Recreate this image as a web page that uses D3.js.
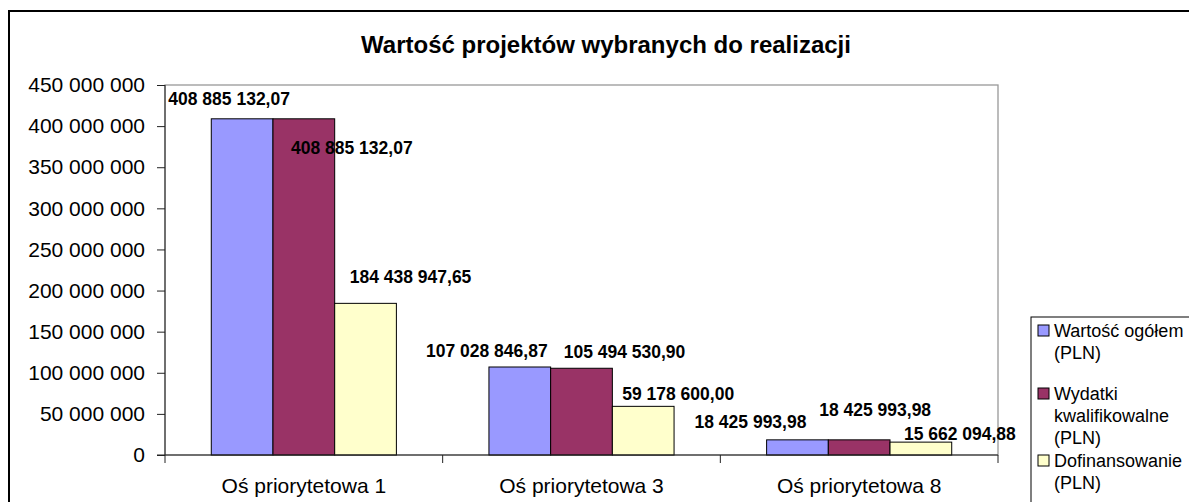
<!DOCTYPE html>
<html>
<head>
<meta charset="utf-8">
<script src="https://cdn.jsdelivr.net/npm/d3@7"></script>
<style>
  body { margin: 0; background: #fff; }
  svg { display: block; font-family: Arial, "Liberation Sans", sans-serif; }
</style>
</head>
<body>
<div id="chart"></div>
<script>
// data
var categories = ["Oś priorytetowa 1", "Oś priorytetowa 3", "Oś priorytetowa 8"];
var seriesNames = ["Wartość ogółem (PLN)", "Wydatki kwalifikowalne (PLN)", "Dofinansowanie (PLN)"];
var wartoscOgolem = [408885132.07, 107028846.87, 18425993.98];
var wydatkiKwalif = [408885132.07, 105494530.90, 18425993.98];
var dofinansowanie = [184438947.65, 59178600.00, 15662094.88];
var yTicks = [0, 50000000, 100000000, 150000000, 200000000, 250000000, 300000000, 350000000, 400000000, 450000000];
var legendLines = [["Wartość ogółem", "(PLN)"], ["Wydatki", "kwalifikowalne", "(PLN)"], ["Dofinansowanie", "(PLN)"]];
var colors = ["#9999ff", "#993366", "#ffffcc"];

// label nudges (the labels were dragged around in the original)
var labelShift = [
  [[-13, -14], [48, 35], [45, -20]],
  [[-33, -10], [43, -10], [35, -6]],
  [[-47, -12], [16, -24], [39, -2]]
];

// basic setup
var svgWidth = 1189;
var svgHeight = 502;
var plot = { left: 165, top: 85, right: 998, bottom: 455 };

var pl = d3.formatLocale({ decimal: ",", thousands: " ", grouping: [3], currency: ["", " zł"] });
var tickFmt = pl.format(",.0f");
var labelFmt = pl.format(",.2f");

var svg = d3.select("#chart")
  .append("svg")
  .attr("width", svgWidth)
  .attr("height", svgHeight);

// outer chart frame
svg.append("rect")
  .attr("x", 9)
  .attr("y", 11)
  .attr("width", 1200)
  .attr("height", 520)
  .attr("fill", "none")
  .attr("stroke", "#000")
  .attr("stroke-width", 2);

// title
svg.append("text")
  .attr("x", 606)
  .attr("y", 53)
  .attr("text-anchor", "middle")
  .style("font-size", "24px")
  .style("font-weight", "bold")
  .text("Wartość projektów wybranych do realizacji");

// scales
var x0 = d3.scaleBand()
  .domain(categories)
  .range([plot.left, plot.right]);

var cw = x0.bandwidth();
var x1 = d3.scaleBand()
  .domain(seriesNames)
  .range([cw * 0.75 / 4.5, cw * 3.75 / 4.5]);

var y = d3.scaleLinear()
  .domain([0, 450000000])
  .range([plot.bottom, plot.top]);

// plot area border
svg.append("rect")
  .attr("x", plot.left)
  .attr("y", plot.top)
  .attr("width", plot.right - plot.left)
  .attr("height", plot.bottom - plot.top)
  .attr("fill", "none")
  .attr("stroke", "#999")
  .attr("stroke-width", 1.3);

// bars
var table = categories.map(function(c, i) {
  return { cat: c, vals: [wartoscOgolem[i], wydatkiKwalif[i], dofinansowanie[i]] };
});

var groups = svg.selectAll("g.grp")
  .data(table)
  .enter()
  .append("g")
  .attr("class", "grp")
  .attr("transform", d => `translate(${x0(d.cat)},0)`);

groups.selectAll("rect")
  .data(d => d.vals.map((v, j) => ({ name: seriesNames[j], v: v, j: j })))
  .enter()
  .append("rect")
  .attr("x", d => x1(d.name))
  .attr("y", d => y(d.v))
  .attr("width", x1.bandwidth())
  .attr("height", d => y(0) - y(d.v))
  .attr("fill", d => colors[d.j])
  .attr("stroke", "#000")
  .attr("stroke-width", 1);

// y axis
var yAxis = svg.append("g")
  .attr("transform", `translate(${plot.left},0)`)
  .call(d3.axisLeft(y).tickValues(yTicks).tickSize(8).tickPadding(12).tickFormat(tickFmt).tickSizeOuter(0));
yAxis.select(".domain").remove();
yAxis.selectAll("line").attr("stroke", "#222");
yAxis.selectAll("text")
  .style("font-size", "21px")
  .style("font-family", "Arial, 'Liberation Sans', sans-serif")
  .attr("fill", "#000");

// x axis (labels only, ticks at the category borders)
var xAxis = svg.append("g")
  .attr("transform", `translate(0,${plot.bottom})`)
  .call(d3.axisBottom(x0).tickSize(0).tickPadding(23));
xAxis.select(".domain").remove();
xAxis.selectAll("text")
  .style("font-size", "21px")
  .style("font-family", "Arial, 'Liberation Sans', sans-serif")
  .attr("fill", "#000");

var borders = categories.map(c => x0(c)).concat([x0.range()[1]]);
svg.selectAll("line.xtick")
  .data(borders)
  .enter()
  .append("line")
  .attr("class", "xtick")
  .attr("x1", d => d)
  .attr("x2", d => d)
  .attr("y1", plot.bottom)
  .attr("y2", plot.bottom + 8)
  .attr("stroke", "#222");

// axis lines
svg.append("line")
  .attr("x1", plot.left - 8)
  .attr("x2", plot.right)
  .attr("y1", plot.bottom)
  .attr("y2", plot.bottom)
  .attr("stroke", "#222");
svg.append("line")
  .attr("x1", plot.left)
  .attr("x2", plot.left)
  .attr("y1", plot.top)
  .attr("y2", plot.bottom)
  .attr("stroke", "#222");

// data labels
groups.selectAll("text.lbl")
  .data((d, i) => d.vals.map((v, j) => ({ name: seriesNames[j], v: v, s: labelShift[i][j] })))
  .enter()
  .append("text")
  .attr("class", "lbl")
  .attr("x", d => x1(d.name) + x1.bandwidth() / 2 + d.s[0])
  .attr("y", d => y(d.v) + d.s[1])
  .attr("text-anchor", "middle")
  .style("font-size", "17.5px")
  .style("font-weight", "bold")
  .text(d => labelFmt(d.v));

// legend
var legend = svg.append("g");
legend.append("rect")
  .attr("x", 1031)
  .attr("y", 317)
  .attr("width", 200)
  .attr("height", 220)
  .attr("fill", "#fff")
  .attr("stroke", "#000");

var itemY = [337, 400, 467];
var items = legend.selectAll("g.item")
  .data(legendLines)
  .enter()
  .append("g")
  .attr("class", "item")
  .attr("transform", (d, i) => `translate(1038,${itemY[i]})`);

items.append("rect")
  .attr("x", 0)
  .attr("y", -12)
  .attr("width", 11)
  .attr("height", 11)
  .attr("fill", (d, i) => colors[i])
  .attr("stroke", "#000");

items.append("text")
  .style("font-size", "18px")
  .selectAll("tspan")
  .data(d => d)
  .enter()
  .append("tspan")
  .attr("x", 16)
  .attr("y", (d, k) => k * 22)
  .text(d => d);
</script>
</body>
</html>
